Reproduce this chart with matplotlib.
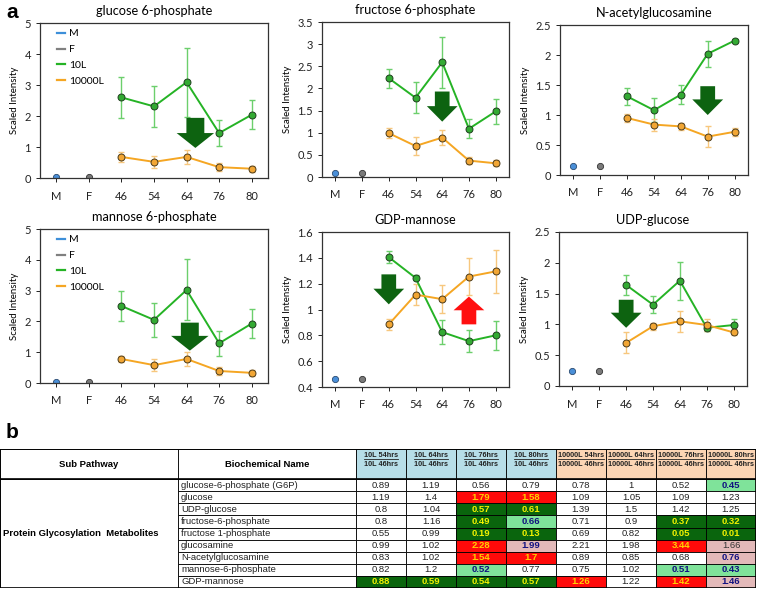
import numpy as np
import matplotlib.pyplot as plt
from matplotlib.patches import FancyArrow, Rectangle

plt.rcParams['font.family'] = ['Lato', 'DejaVu Sans']

# ---- panel a data ----
cats = ['M', 'F', '46', '54', '64', '76', '80']
titles = ['glucose 6-phosphate', 'fructose 6-phosphate', 'N-acetylglucosamine',
          'mannose 6-phosphate', 'GDP-mannose', 'UDP-glucose']
m_vals = [0.02, 0.09, 0.15, 0.03, 0.462, 0.24]
f_vals = [0.02, 0.09, 0.15, 0.03, 0.462, 0.24]
l10 = [[2.60, 2.31, 3.09, 1.45, 2.04],
       [2.23, 1.79, 2.59, 1.09, 1.48],
       [1.31, 1.08, 1.34, 2.02, 2.24],
       [2.50, 2.05, 3.02, 1.29, 1.93],
       [1.405, 1.245, 0.825, 0.755, 0.80],
       [1.64, 1.32, 1.71, 0.945, 0.99]]
l10_err = [[0.65, 0.67, 1.11, 0.43, 0.47],
           [0.22, 0.35, 0.58, 0.22, 0.28],
           [0.14, 0.20, 0.16, 0.22, 0.02],
           [0.50, 0.56, 0.99, 0.41, 0.47],
           [0.045, 0.02, 0.09, 0.085, 0.11],
           [0.16, 0.14, 0.31, 0.05, 0.09]]
l10k = [[0.68, 0.52, 0.68, 0.35, 0.30],
        [0.99, 0.70, 0.89, 0.37, 0.31],
        [0.95, 0.84, 0.81, 0.64, 0.72],
        [0.78, 0.58, 0.78, 0.39, 0.33],
        [0.885, 1.115, 1.08, 1.255, 1.295],
        [0.70, 0.97, 1.05, 0.99, 0.87]]
l10k_err = [[0.16, 0.20, 0.22, 0.12, 0.10],
            [0.11, 0.20, 0.17, 0.08, 0.07],
            [0.06, 0.10, 0.06, 0.17, 0.07],
            [0.10, 0.20, 0.24, 0.12, 0.10],
            [0.04, 0.08, 0.11, 0.145, 0.165],
            [0.17, 0.06, 0.17, 0.10, 0.05]]
ylims = [(0, 5, 1), (0, 3.5, 0.5), (0, 2.5, 0.5), (0, 5, 1), (0.4, 1.6, 0.2), (0, 2.5, 0.5)]
# arrows: panel, x, start, head base, tip, colour
arrows = [(0, 4.27, 1.94, 1.45, 0.97, '#0d6310'),
          (1, 4.0, 1.93, 1.60, 1.25, '#0d6310'),
          (2, 5.0, 1.48, 1.26, 1.00, '#0d6310'),
          (3, 4.1, 1.96, 1.53, 1.05, '#0d6310'),
          (4, 2.0, 1.272, 1.161, 1.04, '#0d6310'),
          (4, 5.0, 0.885, 0.994, 1.10, '#ff1010'),
          (5, 2.0, 1.40, 1.19, 0.945, '#0d6310')]

# ---- panel b data ----
names = ['glucose-6-phosphate (G6P)', 'glucose', 'UDP-glucose', 'fructose-6-phosphate',
         'fructose 1-phosphate', 'glucosamine', 'N-acetylglucosamine',
         'mannose-6-phosphate', 'GDP-mannose']
col_top = ['10L 54hrs', '10L 64hrs', '10L 76hrs', '10L 80hrs',
           '10000L 54hrs', '10000L 64hrs', '10000L 76hrs', '10000L 80hrs']
col_bot = ['10L 46hrs'] * 4 + ['10000L 46hrs'] * 4
ratios = [[0.89, 1.19, 0.56, 0.79, 0.78, 1, 0.52, 0.45],
          [1.19, 1.4, 1.79, 1.58, 1.09, 1.05, 1.09, 1.23],
          [0.8, 1.04, 0.57, 0.61, 1.39, 1.5, 1.42, 1.25],
          [0.8, 1.16, 0.49, 0.66, 0.71, 0.9, 0.37, 0.32],
          [0.55, 0.99, 0.19, 0.13, 0.69, 0.82, 0.05, 0.01],
          [0.99, 1.02, 2.28, 1.99, 2.21, 1.98, 3.44, 1.66],
          [0.83, 1.02, 1.54, 1.7, 0.89, 0.85, 0.68, 0.76],
          [0.82, 1.2, 0.52, 0.77, 0.75, 1.02, 0.51, 0.43],
          [0.88, 0.59, 0.54, 0.57, 1.26, 1.22, 1.42, 1.46]]
marks = [['', '', '', '', '', '', '', 'lg'],
         ['', '', 'r', 'r', '', '', '', ''],
         ['', '', 'dg', 'dg', '', '', '', ''],
         ['', '', 'dg', 'lg', '', '', 'dg', 'dg'],
         ['', '', 'dg', 'dg', '', '', 'dg', 'dg'],
         ['', '', 'r', 'pk', '', '', 'r', 'pn'],
         ['', '', 'r', 'r', '', '', '', 'pk'],
         ['', '', 'lg', '', '', '', 'lg', 'lg'],
         ['dg', 'dg', 'dg', 'dg', 'r', '', 'r', 'pk']]
cell_style = {'': ('white', '#222222', 'normal'),
              'dg': ('#0a650d', '#f2f200', 'bold'),
              'r': ('#ff0a0a', '#ffd000', 'bold'),
              'lg': ('#7fe39a', '#101080', 'bold'),
              'pk': ('#e3b9b9', '#101080', 'bold'),
              'pn': ('#e3b9b9', '#333333', 'normal')}

W, H = 757, 596
fig = plt.figure(figsize=(W / 100, H / 100), dpi=100)

boxes = [(40, 23, 268, 178), (322, 22, 509, 177), (560, 25, 748, 175),
         (40, 229, 268, 383), (322, 232, 509, 387), (559, 232, 747, 386)]
x = np.arange(len(cats))
for i, (x0, y0, x1, y1) in enumerate(boxes):
    ax = fig.add_axes([x0 / W, 1 - y1 / H, (x1 - x0) / W, (y1 - y0) / H])
    ax.plot(x[0], m_vals[i], 'o', ms=4.5, mfc='#4a8fd8', mec='#2a4a70', mew=0.6)
    ax.plot(x[1], f_vals[i], 'o', ms=4.5, mfc='#7a7a7a', mec='#333333', mew=0.6)
    ax.errorbar(x[2:], l10[i], yerr=l10_err[i], fmt='none', ecolor='#6ccf6c', elinewidth=1.0, capsize=2.5, capthick=1.0)
    ax.errorbar(x[2:], l10k[i], yerr=l10k_err[i], fmt='none', ecolor='#f7c77e', elinewidth=1.0, capsize=2.5, capthick=1.0)
    ax.plot(x[2:], l10[i], '-o', color='#25b325', lw=1.4, ms=5, mfc='#33aa33', mec='#1f3f1f', mew=0.7)
    ax.plot(x[2:], l10k[i], '-o', color='#f5a623', lw=1.4, ms=5, mfc='#f2a634', mec='#4a3a1a', mew=0.7)
    lo, hi, st = ylims[i]
    ticks = np.round(np.arange(lo, hi + st / 2, st), 2)
    ax.set_ylim(lo, hi)
    ax.set_yticks(ticks)
    ax.set_yticklabels(['%g' % v for v in ticks])
    ax.set_xlim(-0.5, 6.5)
    ax.set_xticks(x)
    ax.set_xticklabels(cats)
    ax.tick_params(labelsize=8, length=3, width=0.7, colors='#222222')
    ax.tick_params(axis='x', pad=6)
    ax.set_ylabel('Scaled Intensity', fontsize=7, labelpad=4)
    ax.set_title(titles[i], fontsize=9.2, pad=6)
    for s in ax.spines.values():
        s.set_linewidth(0.9)
        s.set_color('#333333')
    if i in (0, 3):
        handles = [plt.Line2D([], [], color=c, lw=1.6) for c in ('#3d8fd9', '#808080', '#25b325', '#f5a623')]
        ax.legend(handles, ['M', 'F', '10L', '10000L'], loc='upper left', frameon=False, fontsize=7.5,
                  handlelength=0.8, handletextpad=0.35, labelspacing=0.62, borderaxespad=0, borderpad=0,
                  bbox_to_anchor=(0.075, 0.96))
    for (p, ax_x, ys, yb, yt, c) in arrows:
        if p == i:
            ax.add_patch(FancyArrow(ax_x, ys, 0, yt - ys, width=0.55, head_width=1.15,
                                    head_length=abs(yb - yt), length_includes_head=True,
                                    color=c, lw=0, zorder=5))

fig.text(6 / W, 1 - 12 / H, 'a', fontsize=15, fontweight='bold', va='center', family='Liberation Sans')
fig.text(6 / W, 1 - 432 / H, 'b', fontsize=15, fontweight='bold', va='center', family='Liberation Sans')

# ---- table ----
widths = [178, 178] + [50] * 8
edges = np.concatenate([[0], np.cumsum(widths)])
hdr = 2.5
tx = fig.add_axes([0, 1 - 588 / H, edges[-1] / W, 139 / H])
tx.set_xlim(0, edges[-1])
tx.set_ylim(hdr + len(names), 0)
tx.axis('off')
tf = 'Liberation Sans'
lw = 0.6
fs = 6.8


def cell(c0, c1, r0, r1, fc):
    tx.add_patch(Rectangle((edges[c0], r0), edges[c1] - edges[c0], r1 - r0,
                           facecolor=fc, edgecolor='black', lw=lw))


cell(0, 1, 0, hdr, 'white')
cell(1, 2, 0, hdr, 'white')
tx.text(edges[0] + widths[0] / 2, hdr / 2, 'Sub Pathway', ha='center', va='center', fontsize=fs, fontweight='bold', family=tf)
tx.text(edges[1] + widths[1] / 2, hdr / 2, 'Biochemical Name', ha='center', va='center', fontsize=fs, fontweight='bold', family=tf)
unders = []
for j in range(8):
    fc = '#b7dee8' if j < 4 else '#fcd5b4'
    cell(j + 2, j + 3, 0, hdr, fc)
    cx = edges[j + 2] + widths[j + 2] / 2
    t = tx.text(cx, 0.55, col_top[j], ha='center', va='center', fontsize=5.2, fontweight='bold', family=tf, color='#222222')
    unders.append(t)
    tx.text(cx, 1.3, col_bot[j], ha='center', va='center', fontsize=5.2, fontweight='bold', family=tf, color='#222222')

cell(0, 1, hdr, hdr + len(names), 'white')
tx.text(edges[0] + 3, hdr + len(names) / 2, 'Protein Glycosylation  Metabolites', ha='left', va='center',
        fontsize=fs, fontweight='bold', family=tf)
for r, nm in enumerate(names):
    y0 = hdr + r
    cell(1, 2, y0, y0 + 1, 'white')
    tx.text(edges[1] + 3, y0 + 0.5, nm, ha='left', va='center', fontsize=fs, family=tf, color='#222222')
    for j in range(8):
        fc, tc, fw = cell_style[marks[r][j]]
        cell(j + 2, j + 3, y0, y0 + 1, fc)
        tx.text(edges[j + 2] + widths[j + 2] / 2, y0 + 0.5, '%g' % ratios[r][j], ha='center', va='center',
                fontsize=fs, fontweight=fw, color=tc, family=tf)

# outer frame and header separator
tx.add_patch(Rectangle((0, 0), edges[-1], hdr + len(names), fill=False, edgecolor='black', lw=1.2))
tx.plot([0, edges[-1]], [hdr, hdr], color='black', lw=1.2)

# underline first header line
fig.canvas.draw()
rend = fig.canvas.get_renderer()
inv = tx.transData.inverted()
for t in unders:
    bb = t.get_window_extent(rend)
    (xa, ya), (xb, yb) = inv.transform([[bb.x0, bb.y0], [bb.x1, bb.y0]])
    tx.plot([xa, xb], [ya - 0.02, yb - 0.02], color='#222222', lw=0.6)

fig.savefig('out.png', dpi=100)
